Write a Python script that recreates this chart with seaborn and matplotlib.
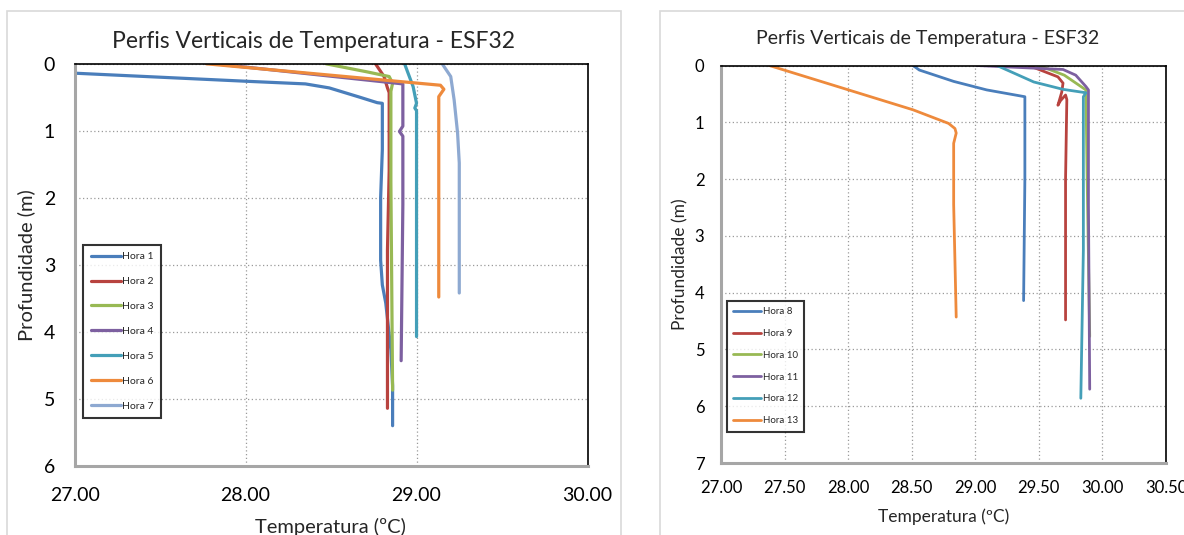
import matplotlib
matplotlib.use("Agg")
import matplotlib.pyplot as plt
import matplotlib.patches as mpatches
import seaborn as sns
import pandas as pd

# ---- data (temperature ºC, depth m) ----
h1_t = [26.80, 27.00, 28.00, 28.35, 28.49, 28.67, 28.77, 28.80, 28.80, 28.79, 28.79, 28.80, 28.82, 28.85, 28.86, 28.86]
h1_d = [0.12, 0.14, 0.26, 0.30, 0.36, 0.50, 0.58, 0.59, 1.28, 2.00, 2.93, 3.30, 3.57, 4.27, 4.80, 5.40]
h2_t = [28.76, 28.81, 28.83, 28.84, 28.84, 28.83, 28.83]
h2_d = [0.00, 0.19, 0.36, 0.43, 1.60, 2.78, 5.14]
h3_t = [28.47, 28.71, 28.84, 28.86, 28.85, 28.85, 28.86]
h3_d = [0.00, 0.12, 0.19, 0.29, 0.41, 1.78, 4.87]
h4_t = [27.82, 28.92, 28.92, 28.90, 28.92, 28.92, 28.91]
h4_d = [0.00, 0.30, 0.93, 1.01, 1.08, 2.10, 4.43]
h5_t = [28.93, 28.98, 29.00, 28.99, 29.00, 29.00, 29.00]
h5_d = [0.00, 0.34, 0.59, 0.66, 0.70, 1.78, 4.07]
h6_t = [27.77, 29.14, 29.16, 29.13, 29.13, 29.13]
h6_d = [0.00, 0.32, 0.38, 0.49, 2.00, 3.48]
h7_t = [29.15, 29.20, 29.22, 29.24, 29.25, 29.25]
h7_d = [0.00, 0.19, 0.54, 1.03, 1.48, 3.42]

h8_t = [28.51, 28.56, 28.83, 29.09, 29.39, 29.39, 29.38]
h8_d = [0.00, 0.08, 0.28, 0.43, 0.55, 2.00, 4.14]
h9_t = [29.42, 29.65, 29.69, 29.68, 29.65, 29.67, 29.71, 29.72, 29.71, 29.71]
h9_d = [0.00, 0.20, 0.31, 0.47, 0.70, 0.62, 0.52, 0.60, 2.00, 4.48]
h10_t = [29.50, 29.70, 29.87, 29.88, 29.90]
h10_d = [0.00, 0.17, 0.43, 2.00, 4.77]
h11_t = [29.01, 29.69, 29.79, 29.87, 29.89, 29.89, 29.90]
h11_d = [0.00, 0.07, 0.17, 0.37, 0.43, 2.45, 5.70]
h12_t = [29.17, 29.46, 29.69, 29.87, 29.85, 29.85, 29.83]
h12_d = [0.00, 0.29, 0.42, 0.48, 0.55, 3.25, 5.86]
h13_t = [27.38, 28.51, 28.79, 28.84, 28.85, 28.83, 28.83, 28.85]
h13_d = [0.00, 0.78, 1.02, 1.11, 1.19, 1.37, 2.45, 4.43]

left_series = {"Hora 1": (h1_t, h1_d), "Hora 2": (h2_t, h2_d), "Hora 3": (h3_t, h3_d),
               "Hora 4": (h4_t, h4_d), "Hora 5": (h5_t, h5_d), "Hora 6": (h6_t, h6_d),
               "Hora 7": (h7_t, h7_d)}
right_series = {"Hora 8": (h8_t, h8_d), "Hora 9": (h9_t, h9_d), "Hora 10": (h10_t, h10_d),
                "Hora 11": (h11_t, h11_d), "Hora 12": (h12_t, h12_d), "Hora 13": (h13_t, h13_d)}

left_colors = ["#4A7EBB", "#B8433F", "#98B954", "#7D60A0", "#449FB8", "#EE8A3C", "#8EA9D1"]
right_colors = ["#4A7EBB", "#B8433F", "#98B954", "#7D60A0", "#449FB8", "#EE8A3C"]

left_xticks = [27.0, 28.0, 29.0, 30.0]
left_yticks = [0, 1, 2, 3, 4, 5, 6]
right_xticks = [27.0, 27.5, 28.0, 28.5, 29.0, 29.5, 30.0, 30.5]
right_yticks = [0, 1, 2, 3, 4, 5, 6, 7]

title = "Perfis Verticais de Temperatura - ESF32"


def to_frame(series):
    rows = []
    for name, (t, d) in series.items():
        rows.append(pd.DataFrame({"hora": name, "temp": t, "depth": d}))
    return pd.concat(rows, ignore_index=True)


sns.set_style("white")
plt.rcParams["font.family"] = ["Lato", "DejaVu Sans"]

W, H = 1184, 535
fig = plt.figure(figsize=(W / 100, H / 100), dpi=100)

# chart-area borders (Excel style)
fig.patches.append(mpatches.Rectangle((6.5 / W, -0.1), (621 - 6.5) / W, 1.1 - 11 / H,
                                      transform=fig.transFigure, fill=False,
                                      edgecolor="#d9d9d9", lw=1.2))
fig.patches.append(mpatches.Rectangle((660 / W, -0.1), 0.6, 1.1 - 11 / H,
                                      transform=fig.transFigure, fill=False,
                                      edgecolor="#d9d9d9", lw=1.2))

ax1 = fig.add_axes([74.6 / W, 1 - 465.9 / H, (587.5 - 74.6) / W, (465.9 - 63.8) / H])
ax2 = fig.add_axes([721 / W, 1 - 463 / H, (1166 - 721) / W, (463 - 65.5) / H])


def draw(ax, series, colors, xticks, yticks, tick_fs, lw, leg_fs, leg_anchor, leg_space, leg_pad):
    df = to_frame(series)
    names = list(series.keys())
    sns.lineplot(data=df, x="temp", y="depth", hue="hora", hue_order=names,
                 palette=colors, sort=False, estimator=None, lw=lw, ax=ax, legend=False)
    ax.set_xlim(xticks[0], xticks[-1])
    ax.set_ylim(yticks[-1], yticks[0])
    ax.set_xticks(xticks)
    ax.set_xticklabels([f"{v:.2f}" for v in xticks])
    ax.set_yticks(yticks)
    ax.set_yticklabels([str(v) for v in yticks])
    ax.set_xlabel("")
    ax.set_ylabel("")
    ax.set_axisbelow(True)
    ax.grid(True, linestyle=(0, (1, 2)), color="#9a9a9a", lw=0.9)
    for s in ["top", "right"]:
        ax.spines[s].set_color("black")
        ax.spines[s].set_linewidth(1.2)
    for s in ["left", "bottom"]:
        ax.spines[s].set_color("#a6a6a6")
        ax.spines[s].set_linewidth(2.2)
    ax.tick_params(length=0, labelsize=tick_fs, colors="black")
    leg = ax.legend(ax.lines[:len(names)], names, loc="lower left", bbox_to_anchor=leg_anchor,
                    borderaxespad=0, fontsize=leg_fs, frameon=True, fancybox=False,
                    handlelength=2.9, handletextpad=0.15, labelspacing=leg_space,
                    borderpad=leg_pad)
    leg.get_frame().set_edgecolor("black")
    leg.get_frame().set_linewidth(1.5)


draw(ax1, left_series, left_colors, left_xticks, left_yticks, 14, 2.3, 7.5, (0.017, 0.119), 1.5, 0.7)
ax1.tick_params(axis="x", pad=15)
ax1.tick_params(axis="y", pad=14)
draw(ax2, right_series, right_colors, right_xticks, right_yticks, 12, 2.0, 7, (0.0126, 0.079), 1.32, 0.65)
ax2.tick_params(axis="x", pad=12)
ax2.tick_params(axis="y", pad=12)

fig.text(314 / W, 1 - 47.8 / H, title, ha="center", va="baseline", fontsize=16.5)
fig.text(928 / W, 1 - 43.7 / H, title, ha="center", va="baseline", fontsize=14)
fig.text(330.6 / W, 1 - 533 / H, "Temperatura (ºC)", ha="center", va="baseline", fontsize=14.5)
fig.text(943.6 / W, 1 - 522 / H, "Temperatura (ºC)", ha="center", va="baseline", fontsize=12.5)
fig.text(26 / W, 1 - 265 / H, "Profundidade (m)", ha="center", va="center", rotation=90, fontsize=14.5)
fig.text(680 / W, 1 - 264 / H, "Profundidade (m)", ha="center", va="center", rotation=90, fontsize=12.5)

fig.savefig("out.png", dpi=100)
